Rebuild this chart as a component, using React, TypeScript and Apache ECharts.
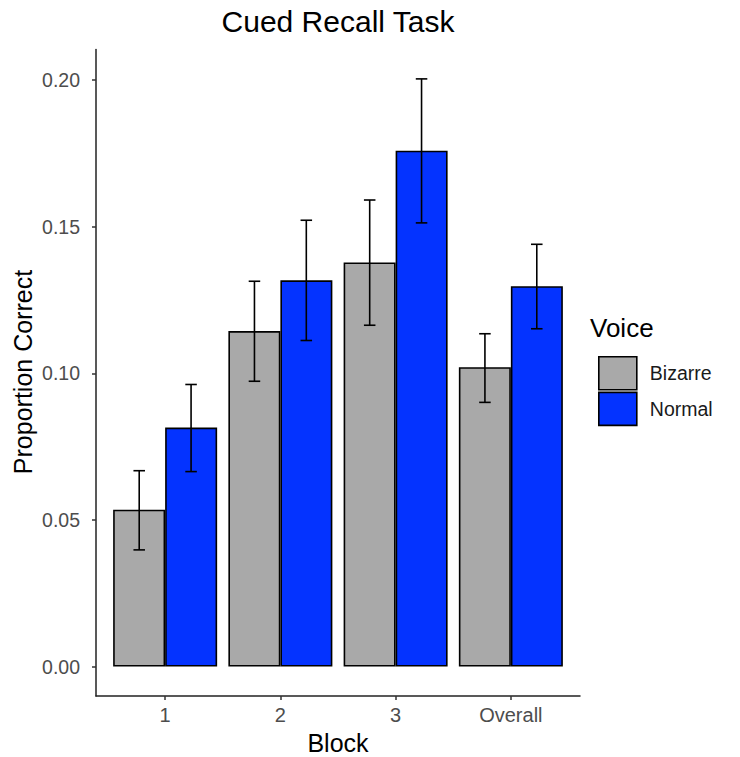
import React, { useEffect, useRef } from "react";
import * as echarts from "echarts";

const categories = ["1", "2", "3", "Overall"];
const seriesNames = ["Bizarre", "Normal"];
const bizarreMean = [0.0535, 0.1144, 0.1378, 0.1021];
const bizarreLow = [0.0398, 0.0973, 0.1164, 0.0901];
const bizarreHigh = [0.0668, 0.1314, 0.1591, 0.1135];
const normalMean = [0.0815, 0.1317, 0.1759, 0.1297];
const normalLow = [0.0665, 0.1112, 0.1513, 0.1152];
const normalHigh = [0.0962, 0.1522, 0.2004, 0.144];
const yTicks = [0, 0.05, 0.1, 0.15, 0.2];
const colors = ["#A9A9A9", "#0433FF"];

const FONT = "Liberation Sans, Arial, Helvetica, sans-serif";

export default function App() {
  const ref = useRef<HTMLDivElement>(null);
  useEffect(() => {
    document.body.style.margin = "0";
    if (!ref.current) return;
    const chart = echarts.init(ref.current, null, { renderer: "svg" });
    const xPos = categories.map((_, i) => i + 1);
    const dataFor = (arr: number[]) => arr.map((v, i) => [xPos[i], v]);
    const errData: number[][] = [];
    categories.forEach((_, i) => {
      errData.push([xPos[i], bizarreLow[i], bizarreHigh[i], -1]);
      errData.push([xPos[i], normalLow[i], normalHigh[i], 1]);
    });
    const option: any = {
      animation: false,
      backgroundColor: "#ffffff",
      grid: { left: 96, right: 160, top: 49.5, bottom: 61 },
      xAxis: {
        type: "value",
        min: 0.4,
        max: 4.6,
        splitLine: { show: false },
        axisLine: { show: true, onZero: false, lineStyle: { color: "#222", width: 1.5 } },
        axisTick: {
          show: true,
          length: 4,
          customValues: xPos,
          lineStyle: { color: "#333", width: 1.5 },
        },
        axisLabel: {
          customValues: xPos,
          formatter: (v: number) => categories[Math.round(v) - 1] ?? "",
          color: "#4D4D4D",
          fontSize: 20,
          fontFamily: FONT,
          margin: 9,
        },
      },
      yAxis: {
        type: "value",
        min: -0.01002,
        max: 0.21042,
        splitLine: { show: false },
        axisLine: { show: true, onZero: false, lineStyle: { color: "#222", width: 1.5 } },
        axisTick: {
          show: true,
          length: 4,
          customValues: yTicks,
          lineStyle: { color: "#333", width: 1.5 },
        },
        axisLabel: {
          customValues: yTicks,
          formatter: (v: number) => v.toFixed(2),
          color: "#4D4D4D",
          fontSize: 19.5,
          fontFamily: FONT,
          margin: 16,
        },
      },
      legend: {
        orient: "vertical",
        left: 593,
        top: 351,
        itemWidth: 38,
        itemHeight: 33,
        itemGap: 1,
        icon: "rect",
        data: seriesNames,
        itemStyle: { borderColor: "#000", borderWidth: 1.6 },
        textStyle: {
          fontSize: 19.5,
          fontFamily: FONT,
          color: "#1a1a1a",
          padding: [0, 0, 0, 8],
        },
      },
      series: [
        {
          name: seriesNames[0],
          type: "bar",
          data: dataFor(bizarreMean),
          barWidth: 52,
          barGap: "0%",
          itemStyle: { color: colors[0], borderColor: "#000", borderWidth: 1.6 },
        },
        {
          name: seriesNames[1],
          type: "bar",
          data: dataFor(normalMean),
          barWidth: 52,
          barGap: "0%",
          itemStyle: { color: colors[1], borderColor: "#000", borderWidth: 1.6 },
        },
        {
          type: "custom",
          data: errData,
          z: 10,
          renderItem: (params: any, api: any) => {
            const x = api.value(0);
            const lo = api.value(1);
            const hi = api.value(2);
            const side = api.value(3);
            const off = api.size([0.225, 0])[0] * side;
            const hw = api.size([0.05, 0])[0];
            const pHi = api.coord([x, hi]);
            const pLo = api.coord([x, lo]);
            const cx = pHi[0] + off;
            const style = { stroke: "#000", lineWidth: 1.6 };
            return {
              type: "group",
              children: [
                { type: "line", shape: { x1: cx, y1: pHi[1], x2: cx, y2: pLo[1] }, style },
                { type: "line", shape: { x1: cx - hw, y1: pHi[1], x2: cx + hw, y2: pHi[1] }, style },
                { type: "line", shape: { x1: cx - hw, y1: pLo[1], x2: cx + hw, y2: pLo[1] }, style },
              ],
            };
          },
        },
      ],
      graphic: [
        {
          type: "text",
          x: 338,
          y: 21,
          style: {
            text: "Cued Recall Task",
            fontSize: 30,
            fontFamily: FONT,
            fill: "#000",
            textAlign: "center",
            textVerticalAlign: "middle",
          },
        },
        {
          type: "text",
          x: 338,
          y: 743,
          style: {
            text: "Block",
            fontSize: 25,
            fontFamily: FONT,
            fill: "#000",
            textAlign: "center",
            textVerticalAlign: "middle",
          },
        },
        {
          type: "text",
          x: 23,
          y: 372,
          rotation: Math.PI / 2,
          style: {
            text: "Proportion Correct",
            fontSize: 25,
            fontFamily: FONT,
            fill: "#000",
            textAlign: "center",
            textVerticalAlign: "middle",
          },
        },
        {
          type: "text",
          x: 590,
          y: 328,
          style: {
            text: "Voice",
            fontSize: 26,
            fontFamily: FONT,
            fill: "#000",
            textAlign: "left",
            textVerticalAlign: "middle",
          },
        },
      ],
    };
    chart.setOption(option);
    return () => chart.dispose();
  }, []);
  return <div ref={ref} style={{ width: 740, height: 757 }} />;
}
